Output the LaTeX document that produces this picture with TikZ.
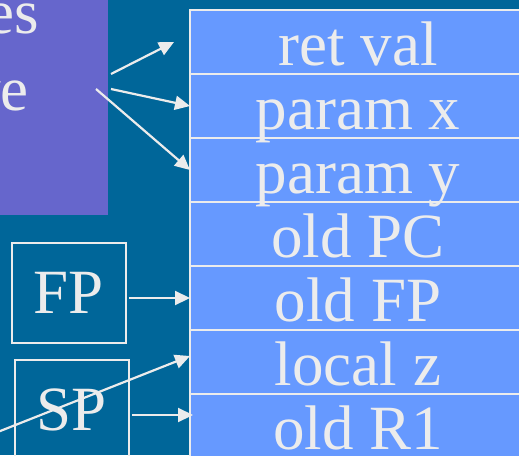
\documentclass[tikz,border=0pt]{standalone}
\usepackage{fontspec}
\setmainfont{Liberation Serif}
\newfontfamily\slideserif{Liberation Serif}
\usetikzlibrary{arrows.meta, positioning}
\definecolor{SlideBlue}{HTML}{006699}
\definecolor{NoteViolet}{HTML}{6666CC}
\definecolor{FrameBlue}{HTML}{6699FF}
\definecolor{InkWhite}{HTML}{ECECEC}
\newcommand{\slidefont}{\slideserif\fontsize{63}{63}\selectfont}

\begin{document}
\begin{tikzpicture}[
    x=1pt, y=-1pt,
    >={Triangle[length=15pt,width=14pt]},
    cell/.style={
        fill=FrameBlue,
        draw=InkWhite,
        line width=2.4pt,
        minimum width=336pt,
        minimum height=64pt,
        inner sep=0pt,
        outer sep=0pt,
        text height=46pt,
        text depth=0pt,
        text=InkWhite,
        font=\slidefont
    },
    reg/.style={
        draw=InkWhite,
        line width=2pt,
        minimum width=114pt,
        minimum height=100pt,
        inner sep=0pt,
        text=InkWhite,
        font=\slidefont
    },
    link/.style={
        draw=InkWhite,
        line width=2.2pt,
        ->
    }
]

\useasboundingbox (0,0) rectangle (519,455);
\clip (0,0) rectangle (519,455);
\fill[SlideBlue] (0,0) rectangle (519,455);

% note box on the left, only the line ends show
\fill[NoteViolet] (0,0) rectangle (108,215);
\node[text=InkWhite, font=\slidefont, inner sep=0pt, anchor=base east] (es) at (39,33) {es};
\node[text=InkWhite, font=\slidefont, inner sep=0pt, anchor=base east] (ve) at (29,110) {ve};
\coordinate (n1) at (111,74);
\coordinate (n2) at (111,89);
\coordinate (n3) at (96,89);

% stack frame, built bottom up so descenders stay on top
\node[cell, anchor=north west] (or1) at (190,394) {old R1};
\node[cell, above=0pt of or1] (lz) {local z};
\node[cell, above=0pt of lz] (ofp) {old FP};
\node[cell, above=0pt of ofp] (opc) {old PC};
\node[cell, above=0pt of opc] (py) {param y};
\node[cell, above=0pt of py] (px) {param x};
\node[cell, above=0pt of px] (ret) {ret val};

% registers
\node[reg, anchor=north west] (FP) at (11,242) {FP};
\node[reg, anchor=north west] (SP) at (14,359) {SP};

\draw[link] (n1) -- ([xshift=-16pt]ret.west);
\draw[link] (n2) -- (px.west);
\draw[link] (n3) -- (py.west);

\coordinate (fpout) at ([xshift=2pt]FP.east |- ofp.west);
\coordinate (spout) at ([xshift=2pt,yshift=-5pt]SP.east);
\draw[link] (fpout) -- (ofp.west);
\draw[link] (spout) -- ([xshift=3pt]spout -| or1.west);

\coordinate (caller) at (-20,439);
\draw[link] (caller) -- ([yshift=6pt]lz.west);

\end{tikzpicture}
\end{document}
